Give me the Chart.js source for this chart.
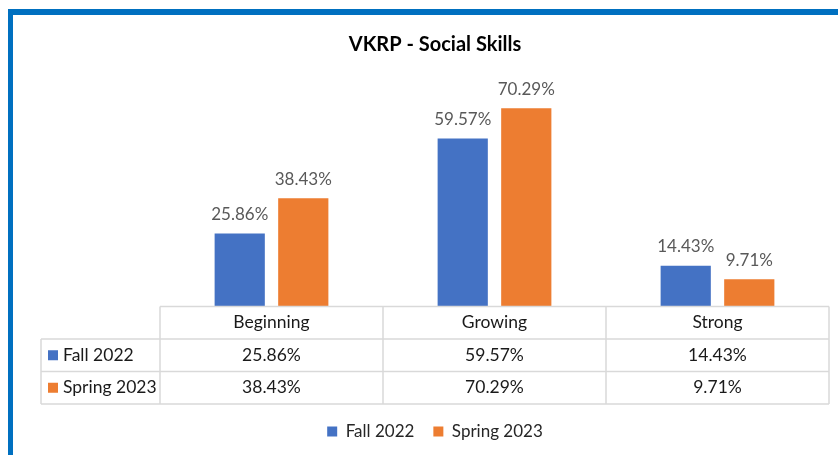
<!DOCTYPE html>
<html>
<head>
<meta charset="utf-8">
<script src="https://cdn.jsdelivr.net/npm/chart.js@4.4.1/dist/chart.umd.min.js"></script>
<style>
  html, body { margin: 0; padding: 0; background: #fff; }
  #frame {
    position: absolute; left: 8px; top: 9px; right: 0; bottom: 0;
    border-top: 6px solid #0070c0; border-left: 5px solid #0070c0;
  }
  #chart { position: absolute; left: 0; top: 0; }
</style>
</head>
<body>
<div id="frame"></div>
<canvas id="chart" width="838" height="455"></canvas>
<script>
const categories = ['Beginning', 'Growing', 'Strong'];
const seriesNames = ['Fall 2022', 'Spring 2023'];
const fall2022 = [25.86, 59.57, 14.43];
const spring2023 = [38.43, 70.29, 9.71];

const FONT = 'Lato';
const BLUE = '#4472c4';
const ORANGE = '#ed7d31';
const ROW_H = 32.5;
const TABLE_LEFT = 41;

const fmt = (v) => v.toFixed(2) + '%';

// value labels above the bars
const barLabels = {
  id: 'barLabels',
  afterDatasetsDraw(chart) {
    const { ctx } = chart;
    ctx.save();
    ctx.font = `17px ${FONT}`;
    ctx.fillStyle = '#595959';
    ctx.textAlign = 'center';
    ctx.textBaseline = 'middle';
    chart.data.datasets.forEach((ds, i) => {
      chart.getDatasetMeta(i).data.forEach((bar, j) => {
        ctx.fillText(fmt(ds.data[j]), bar.x, bar.y - 19);
      });
    });
    ctx.restore();
  }
};

// data table drawn in the space of the x axis
const dataTable = {
  id: 'dataTable',
  afterDraw(chart) {
    const { ctx, chartArea, scales: { x } } = chart;
    const top = chartArea.bottom;
    const colW = (chartArea.right - chartArea.left) / categories.length;
    const bottom = top + ROW_H * 3;

    ctx.save();
    ctx.strokeStyle = '#d9d9d9';
    ctx.lineWidth = 1.5;
    ctx.beginPath();
    ctx.moveTo(chartArea.left, top);
    ctx.lineTo(chartArea.right, top);
    for (let r = 1; r <= 3; r++) {
      ctx.moveTo(TABLE_LEFT, top + ROW_H * r);
      ctx.lineTo(chartArea.right, top + ROW_H * r);
    }
    for (let c = 0; c <= categories.length; c++) {
      const cx = chartArea.left + colW * c;
      ctx.moveTo(cx, top);
      ctx.lineTo(cx, bottom);
    }
    ctx.moveTo(TABLE_LEFT, top + ROW_H);
    ctx.lineTo(TABLE_LEFT, bottom);
    ctx.stroke();

    ctx.font = `17.5px ${FONT}`;
    ctx.fillStyle = '#1a1a1a';
    ctx.textBaseline = 'middle';
    ctx.textAlign = 'center';
    categories.forEach((cat, i) => {
      ctx.fillText(cat, x.getPixelForValue(i), top + ROW_H / 2);
    });

    chart.data.datasets.forEach((ds, r) => {
      const cy = top + ROW_H * (r + 1.5);
      ctx.fillStyle = ds.backgroundColor;
      ctx.fillRect(TABLE_LEFT + 7, cy - 5, 10, 10);
      ctx.fillStyle = '#1a1a1a';
      ctx.textAlign = 'left';
      ctx.fillText(ds.label, TABLE_LEFT + 22, cy);
      ctx.textAlign = 'center';
      ds.data.forEach((v, i) => {
        ctx.fillText(fmt(v), x.getPixelForValue(i), cy);
      });
    });
    ctx.restore();
  }
};

new Chart(document.getElementById('chart'), {
  type: 'bar',
  data: {
    labels: categories,
    datasets: [
      { label: seriesNames[0], data: fall2022, backgroundColor: BLUE },
      { label: seriesNames[1], data: spring2023, backgroundColor: ORANGE }
    ]
  },
  options: {
    responsive: false,
    animation: false,
    layout: { padding: { left: TABLE_LEFT, right: 9, top: 33, bottom: 5 } },
    datasets: { bar: { categoryPercentage: 0.57, barPercentage: 0.79 } },
    scales: {
      x: {
        grid: { display: false },
        border: { display: false },
        ticks: { display: false },
        afterFit(scale) { scale.height = ROW_H * 3; }
      },
      y: {
        min: 0,
        max: 80,
        grid: { display: false },
        border: { display: false },
        ticks: { display: false },
        afterFit(scale) { scale.width = 119; }
      }
    },
    plugins: {
      title: {
        display: true,
        text: 'VKRP - Social Skills',
        color: '#000',
        font: { family: FONT, size: 20, weight: 'bold' },
        padding: { top: 0, bottom: 24 }
      },
      legend: {
        position: 'bottom',
        labels: {
          color: '#262626',
          font: { family: FONT, size: 17 },
          boxWidth: 10,
          boxHeight: 10,
          padding: 19
        }
      },
      tooltip: { enabled: false }
    }
  },
  plugins: [barLabels, dataTable]
});
</script>
</body>
</html>
